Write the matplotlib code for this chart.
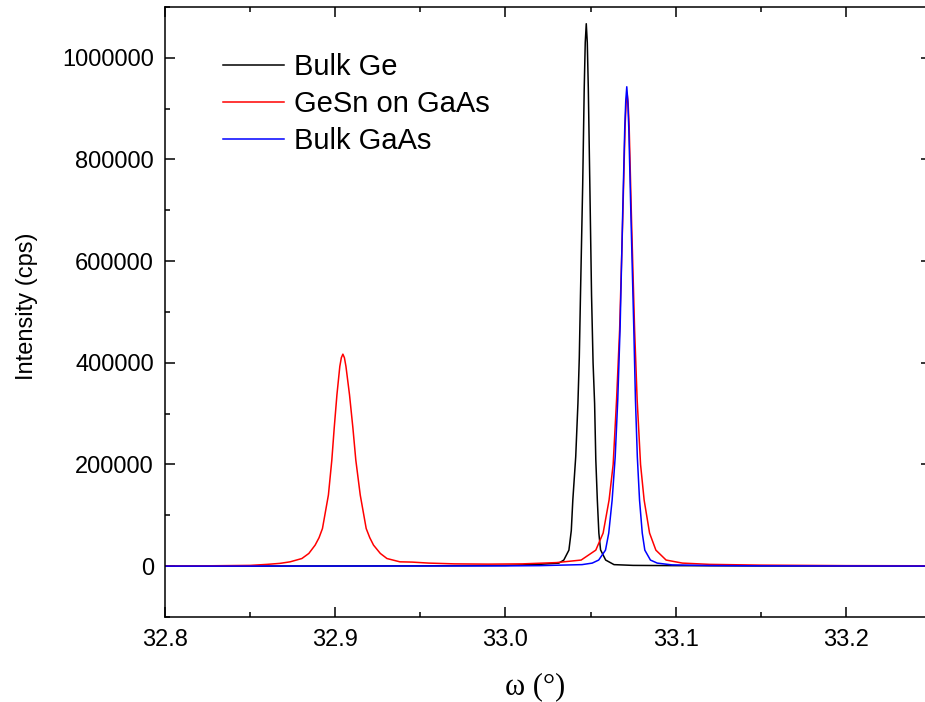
import matplotlib
matplotlib.use("Agg")
import matplotlib.pyplot as plt
from matplotlib.ticker import MultipleLocator, FormatStrFormatter

# Rocking-curve samples: omega (deg) and intensity (cps)
ge_omega = [32.800, 32.950, 33.000, 33.020, 33.0314, 33.0343, 33.0373, 33.0387,
            33.0396, 33.0413, 33.0426, 33.0434, 33.0441, 33.0454, 33.0463, 33.0469,
            33.0475, 33.0481,
            33.0487, 33.0496, 33.0506, 33.0515, 33.0524, 33.0531, 33.0540, 33.0549,
            33.0559, 33.0589, 33.0638, 33.0750, 33.100, 33.150, 33.250]
ge_counts = [0, 500, 1500, 3500, 6000, 12000, 31500, 70000,
             130000, 215000, 320000, 410000, 533000, 750000, 940000, 1030000,
             1067000, 1030000,
             940000, 750000, 533000, 400000, 320000, 210000, 130000, 65000,
             32000, 12000, 3000, 1500, 1000, 500, 200]

gesn_omega = [32.800, 32.820, 32.850, 32.860, 32.8676, 32.8735, 32.8804, 32.8845,
              32.8882, 32.8905,
              32.8925, 32.8960, 32.8980, 32.8994, 32.9010, 32.9027, 32.9036, 32.9045,
              32.9054, 32.9063,
              32.9084, 32.9104, 32.9121, 32.9147, 32.9182, 32.9203, 32.9225, 32.9265,
              32.9304, 32.9380,
              32.945, 32.955, 32.970, 32.990, 33.010, 33.030, 33.0445, 33.0531,
              33.0574, 33.0609, 33.0633, 33.0653, 33.0671, 33.0689, 33.0703, 33.0709,
              33.0715, 33.0721,
              33.0727, 33.0741, 33.0759, 33.0774, 33.0794, 33.0815, 33.0847, 33.0884,
              33.0944, 33.104, 33.120, 33.150, 33.200, 33.250]
gesn_counts = [300, 500, 1500, 3500, 5500, 8500, 15000, 25000,
               41400, 56000,
               74000, 140000, 208500, 271500, 337000, 393000, 410000, 417000,
               410000, 393000,
               337000, 271500, 208500, 140000, 74000, 56000, 41400, 25000,
               15000, 8500,
               8000, 6000, 4500, 4000, 4500, 7000, 12000, 31500,
               65000, 130000, 200000, 327000, 465000, 680000, 865000, 910000,
               930000, 910000,
               865000, 680000, 465000, 327000, 200000, 130000, 65000, 31500,
               12000, 6000, 3500, 2000, 1000, 700]

gaas_omega = [32.800, 32.900, 33.000, 33.020, 33.045, 33.0510, 33.0548, 33.0588,
              33.0607, 33.0627, 33.0645, 33.0660, 33.0674, 33.0689, 33.0701, 33.0707,
              33.0713, 33.0719,
              33.0725, 33.0737, 33.0754, 33.0764, 33.0775, 33.0788, 33.0804, 33.0819,
              33.0852, 33.0892, 33.0978, 33.120, 33.150, 33.250]
gaas_counts = [100, 200, 500, 1000, 3000, 6000, 12000, 31500,
               65000, 130000, 215000, 327000, 471000, 695000, 860000, 915000,
               943000, 915000,
               860000, 695000, 471000, 327000, 215000, 130000, 65000, 31500,
               12000, 6000, 2500, 1200, 600, 200]

series_labels = ["Bulk Ge", "GeSn on GaAs", "Bulk GaAs"]
x_ticks = [32.8, 32.9, 33.0, 33.1, 33.2]
y_ticks = [0, 200000, 400000, 600000, 800000, 1000000]

plt.rcParams["font.family"] = ["Liberation Sans", "DejaVu Sans"]

fig = plt.figure(figsize=(9.25, 7.02), dpi=100)
ax = fig.add_axes([0.1784, 0.1211, 0.828, 0.869])

ax.plot(ge_omega, ge_counts, color="#000000", lw=1.1, label=series_labels[0])
ax.plot(gesn_omega, gesn_counts, color="#ff0000", lw=1.1, label=series_labels[1])
ax.plot(gaas_omega, gaas_counts, color="#0000ff", lw=1.1, label=series_labels[2])

ax.set_xlim(32.8, 33.25)
ax.set_ylim(-100000, 1100000)
ax.set_xticks(x_ticks)
ax.set_yticks(y_ticks)
ax.xaxis.set_minor_locator(MultipleLocator(0.05))
ax.yaxis.set_minor_locator(MultipleLocator(100000))
ax.xaxis.set_major_formatter(FormatStrFormatter("%.1f"))
ax.yaxis.set_major_formatter(FormatStrFormatter("%d"))

ax.tick_params(which="both", direction="in", top=True, right=True,
               width=1.1, labelsize=17, colors="black")
ax.tick_params(which="major", length=7)
ax.tick_params(which="minor", length=3.6)
ax.tick_params(axis="x", which="major", pad=9)
ax.tick_params(axis="y", which="major", pad=8)
for sp in ax.spines.values():
    sp.set_linewidth(1.1)

ax.set_ylabel("Intensity (cps)", fontsize=17)
ax.yaxis.set_label_coords(-0.166, 0.51)
ax.set_xlabel("\u03c9 (\u00b0)", fontsize=22, family=["Liberation Serif", "DejaVu Serif"],
              va="top")
ax.xaxis.set_label_coords(0.483, -0.09)

ax.legend(loc="upper left", bbox_to_anchor=(0.06, 0.943), frameon=False,
          fontsize=21, handlelength=2.12, handletextpad=0.32, labelspacing=0.3,
          borderaxespad=0.0)

fig.savefig("out.png", dpi=100)
